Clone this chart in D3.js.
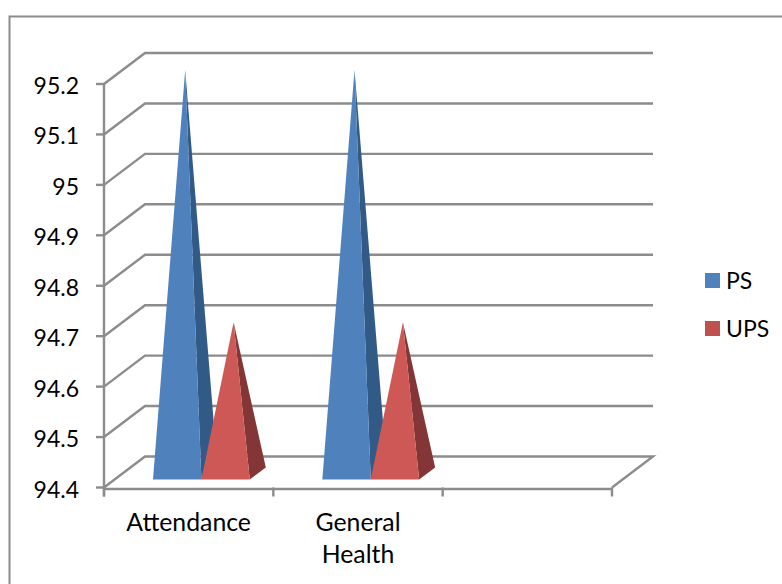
<!DOCTYPE html>
<html><head><meta charset="utf-8">
<script src="https://cdn.jsdelivr.net/npm/d3@7"></script>
<style>html,body{margin:0;padding:0;background:#fff}svg{display:block}text{font-family:Lato,"Open Sans",sans-serif;fill:#000}</style>
</head><body><svg id="c" width="782" height="584"></svg>
<script>
const categories=[["Attendance"],["General","Health"],[""]];
const seriesNames=["PS","UPS"];
const psValues=[95.2,95.2];
const upsValues=[94.7,94.7];
const tickValues=[94.4,94.5,94.6,94.7,94.8,94.9,95,95.1,95.2];
const tickLabels=["94.4","94.5","94.6","94.7","94.8","94.9","95","95.1","95.2"];
const colors=[{front:"#4F81BD",side:"#335A87"},{front:"#CD5854",side:"#843534"}];
const legendColors=["#4F81BD","#C0504D"];

const svg=d3.select("#c");
const y=d3.scaleLinear().domain([94.4,95.2]).range([487.5,84]);
const x=d3.scaleBand().domain(d3.range(categories.length)).range([104,612]);
const dx=41,dy=-31, grid="#8C8C8C";
svg.append("rect").attr("x",9.5).attr("y",16.5).attr("width",800).attr("height",600).attr("fill","none").attr("stroke",grid).attr("stroke-width",2);
const gl=svg.append("g").attr("fill","none").attr("stroke",grid).attr("stroke-width",2.4);
tickValues.forEach((v,i)=>{
  const yy=y(v);
  const pts= i===0? [[x.range()[0],yy],[x.range()[0]+dx,yy+dy],[x.range()[1]+dx,yy+dy],[x.range()[1],yy]]
                  : [[x.range()[0],yy],[x.range()[0]+dx,yy+dy],[x.range()[1]+dx,yy+dy]];
  gl.append("path").attr("d",d3.line()(pts));
  gl.append("line").attr("x1",96).attr("x2",104).attr("y1",yy).attr("y2",yy);
  svg.append("text").attr("x",79).attr("y",yy+10).attr("text-anchor","end").attr("font-size",23).text(tickLabels[i]);
});
gl.append("line").attr("x1",104).attr("x2",104).attr("y1",y(95.2)).attr("y2",y(94.4)+9);
gl.append("line").attr("x1",104).attr("x2",612).attr("y1",y(94.4)+1.5).attr("y2",y(94.4)+1.5);
d3.range(categories.length+1).forEach(i=>{
  const xx=104+i*x.step();
  gl.append("line").attr("x1",xx).attr("x2",xx).attr("y1",y(94.4)).attr("y2",y(94.4)+9);
});
const barW=48.4, baseFront=479.5, sideX=16, sideY=-12;
const defs=svg.append("defs");
const f=defs.append("filter").attr("id","soft").attr("x","-10%").attr("y","-10%").attr("width","120%").attr("height","120%");
f.append("feGaussianBlur").attr("stdDeviation",0.35);
[psValues,upsValues].forEach((vals,s)=>{
  vals.forEach((v,i)=>{
    const left=x(i)+49+s*barW, right=left+barW;
    const apexX=(left+right)/2+sideX/2;
    const apexY=y(v)+ (baseFront+sideY/2 - y(94.4));
    const g=svg.append("g").attr("filter","url(#soft)");
    g.append("path").attr("d",d3.line()([[apexX,apexY],[right,baseFront],[right+sideX,baseFront+sideY]])+"Z").attr("fill",colors[s].side);
    g.append("path").attr("d",d3.line()([[apexX,apexY],[left,baseFront],[right,baseFront]])+"Z").attr("fill",colors[s].front);
  });
});
categories.forEach((lines,i)=>{
  lines.forEach((t,j)=>{
    svg.append("text").attr("x",x(i)+x.bandwidth()/2).attr("y",531+j*32).attr("text-anchor","middle").attr("font-size",24.8).text(t);
  });
});
seriesNames.forEach((n,i)=>{
  const yy=273+i*48;
  svg.append("rect").attr("x",705).attr("y",yy).attr("width",15).attr("height",15).attr("fill",legendColors[i]);
  svg.append("text").attr("x",726).attr("y",yy+16).attr("font-size",23).text(n);
});
</script></body></html>
